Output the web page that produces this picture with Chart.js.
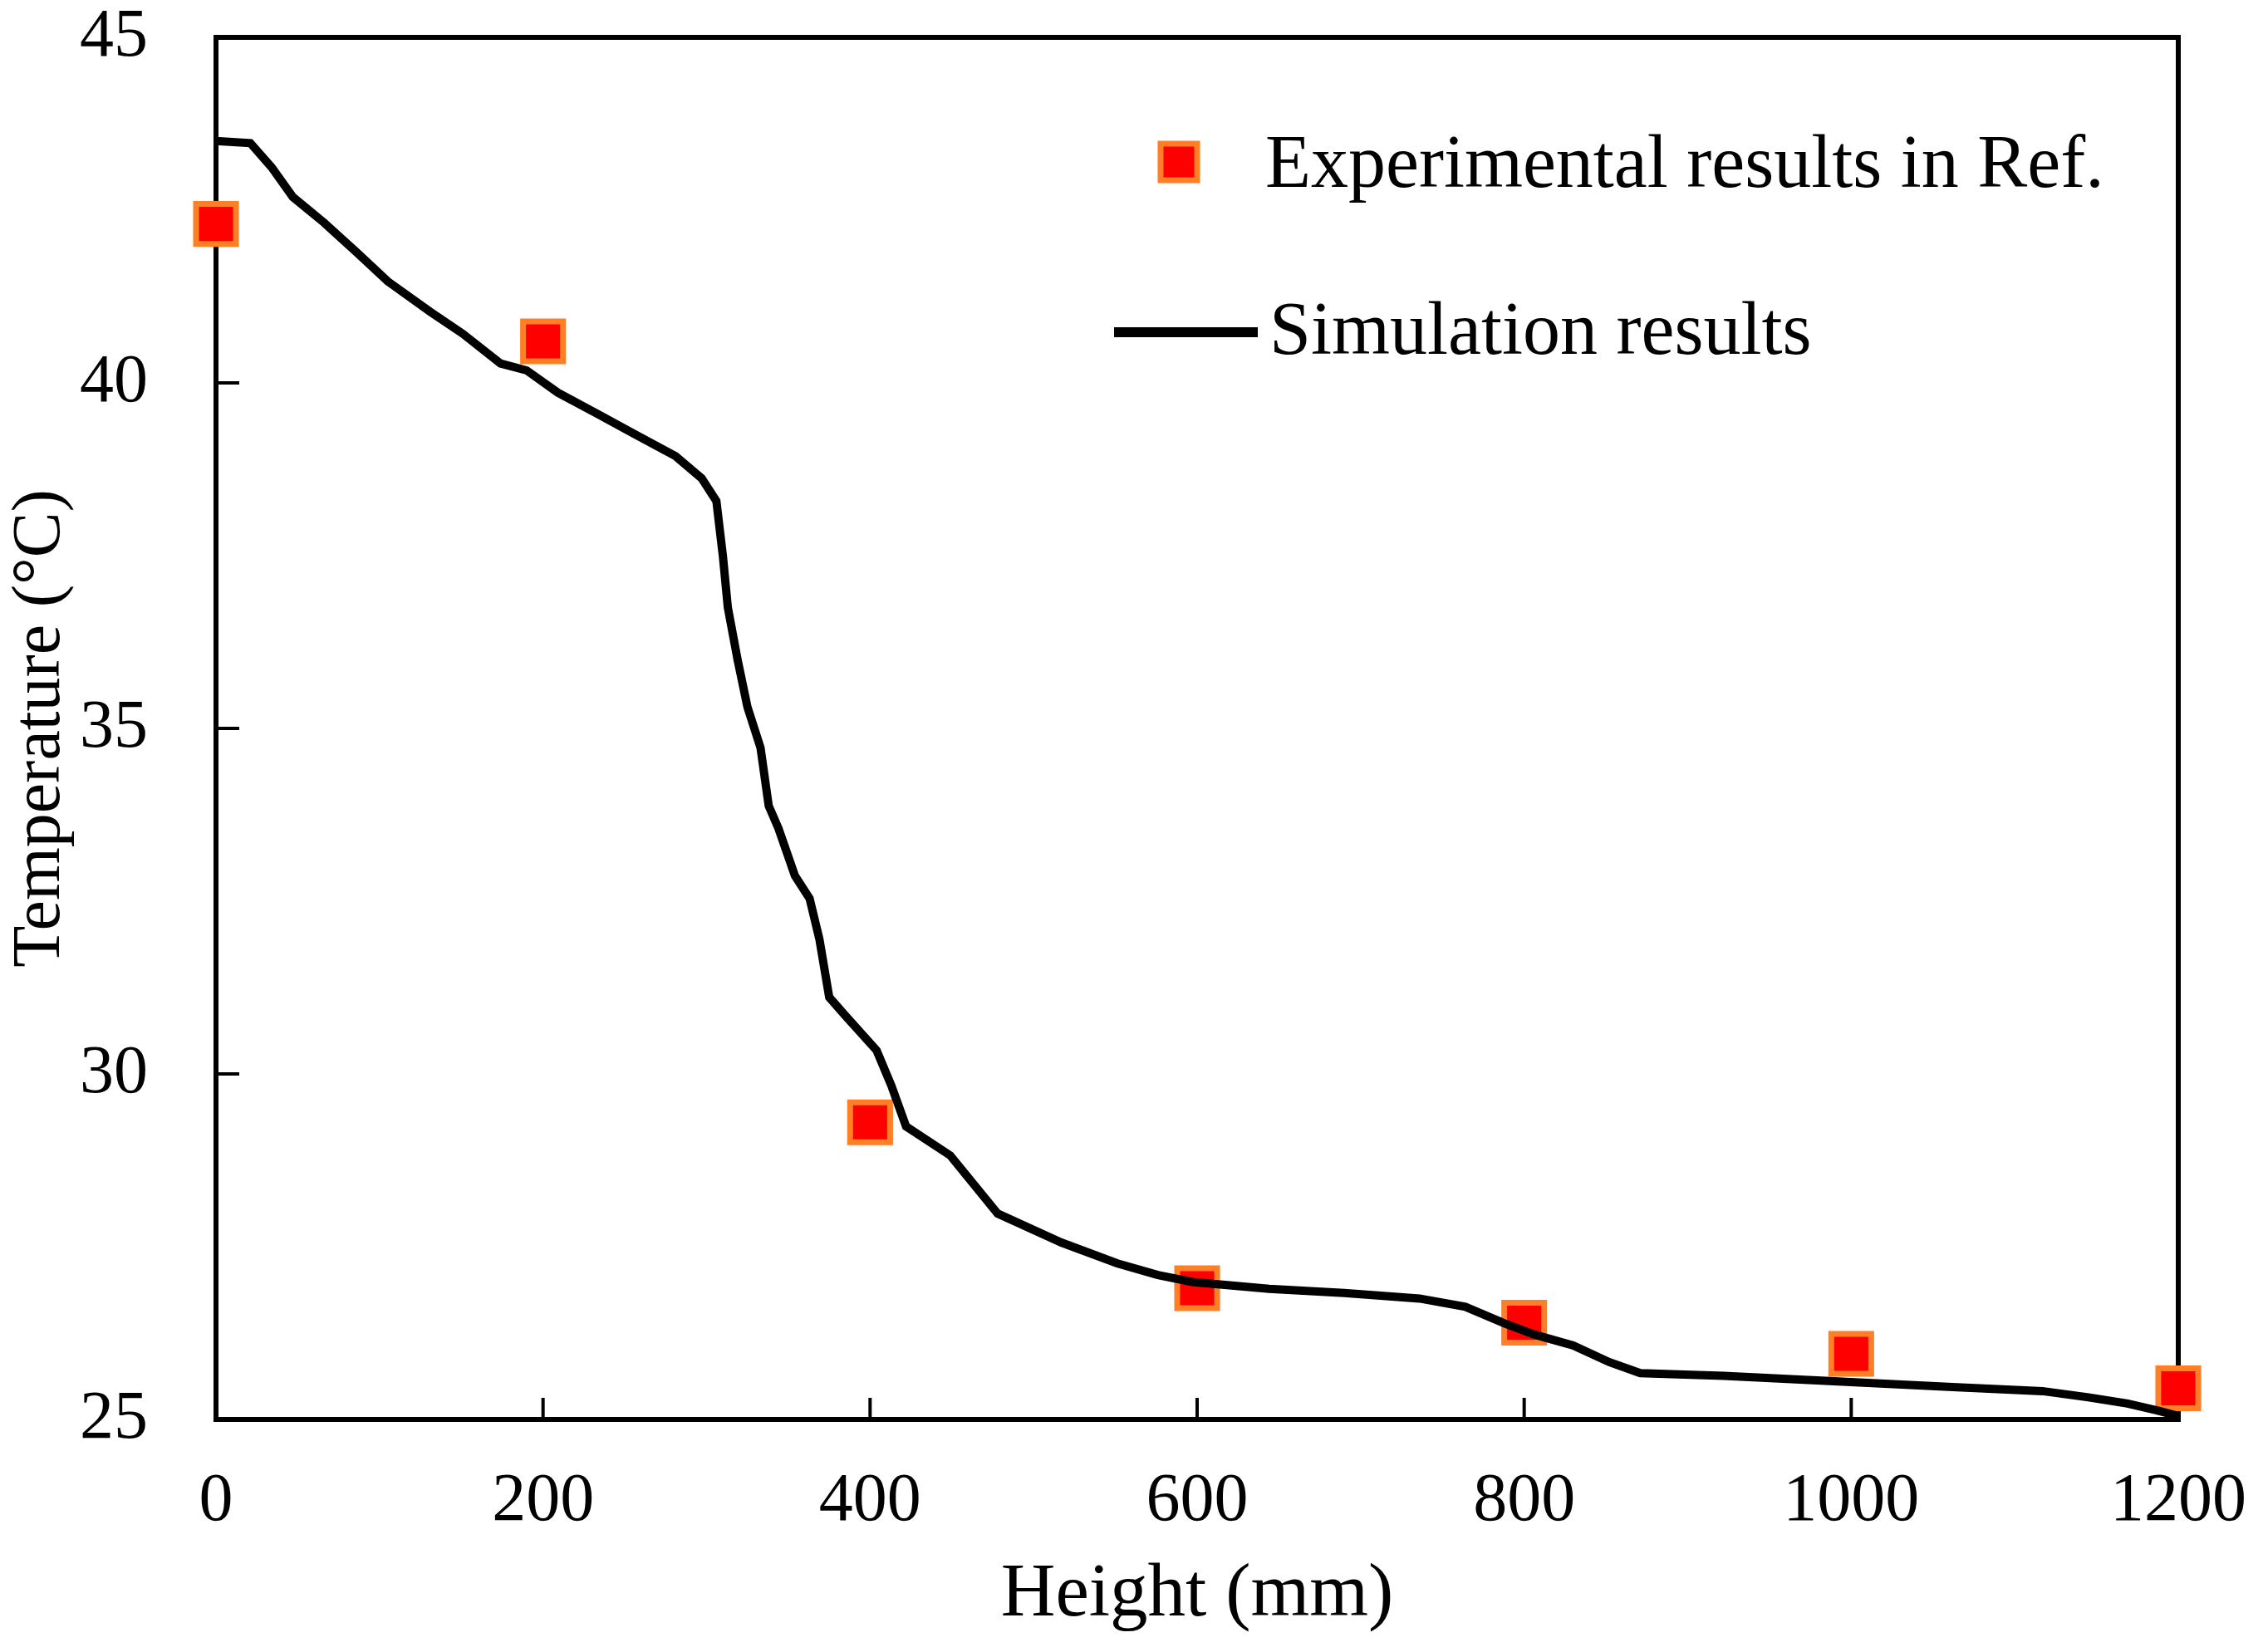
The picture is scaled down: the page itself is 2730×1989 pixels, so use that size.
<!DOCTYPE html>
<html>
<head>
<meta charset="utf-8">
<script src="https://cdn.jsdelivr.net/npm/chart.js@4/dist/chart.umd.min.js"></script>
<style>
  html, body { margin: 0; padding: 0; background: #fff; }
  #wrap { width: 2730px; height: 1989px; }
</style>
</head>
<body>
<div id="wrap"><canvas id="chart" width="2730" height="1989"></canvas></div>
<script>
// Experimental results (Ref.)
const expHeight = [0, 200, 400, 600, 800, 1000, 1200];
const expTemp = [42.3, 40.6, 29.3, 26.9, 26.4, 25.95, 25.45];

// Simulation curve
const simHeight = [0, 21, 34, 47, 66, 86, 105, 131, 151, 174, 190, 209, 235, 255, 281, 297, 306, 310,
  313, 319, 325, 333, 338, 344, 354, 363, 369, 375, 385, 404, 413, 422, 449, 478, 517, 551, 576,
  597, 644, 690, 736, 764, 788, 806, 830, 852, 871, 922, 992, 1062, 1117, 1145, 1169, 1187, 1200];
const simTemp = [43.5, 43.47, 43.12, 42.69, 42.32, 41.89, 41.47, 41.03, 40.71, 40.28, 40.18, 39.86,
  39.53, 39.27, 38.94, 38.62, 38.29, 37.49, 36.75, 35.99, 35.31, 34.72, 33.88, 33.55, 32.87, 32.54,
  31.95, 31.11, 30.84, 30.34, 29.83, 29.24, 28.82, 27.98, 27.56, 27.26, 27.09, 26.99, 26.89, 26.83,
  26.75, 26.63, 26.39, 26.23, 26.07, 25.83, 25.67, 25.63, 25.55, 25.47, 25.41, 25.32, 25.23, 25.13, 25.05];

// axis settings
const xTicks = [0, 200, 400, 600, 800, 1000, 1200];
const yTicks = [25, 30, 35, 40, 45];
const legendLabels = ['Experimental results in Ref.', 'Simulation results'];

const FONT = 'Liberation Serif';

// frame round the plot and short inward ticks
const framePlugin = {
  id: 'frame',
  beforeDatasetsDraw(chart) {
    const { ctx, chartArea: a, scales } = chart;
    ctx.save();
    ctx.strokeStyle = '#000';
    ctx.lineWidth = 4;
    ctx.beginPath();
    xTicks.slice(1, -1).forEach(v => {
      const px = scales.x.getPixelForValue(v);
      ctx.moveTo(px, a.bottom);
      ctx.lineTo(px, a.bottom - 26);
    });
    yTicks.slice(1, -1).forEach(v => {
      const py = scales.y.getPixelForValue(v);
      ctx.moveTo(a.left, py);
      ctx.lineTo(a.left + 28, py);
    });
    ctx.stroke();
    ctx.lineWidth = 6;
    ctx.strokeRect(a.left, a.top, a.right - a.left, a.bottom - a.top);
    ctx.restore();
  }
};

// legend inside the plot, top right
const legendPlugin = {
  id: 'insideLegend',
  afterDraw(chart) {
    const { ctx, chartArea: a } = chart;
    const exp = chart.data.datasets[1];
    const sim = chart.data.datasets[0];
    ctx.save();
    ctx.font = '90px "' + FONT + '"';
    ctx.textBaseline = 'middle';

    // square marker
    const sx = a.left + 1159, sy = a.top + 150;
    ctx.fillStyle = exp.pointBackgroundColor;
    ctx.strokeStyle = exp.pointBorderColor;
    ctx.lineWidth = 7;
    ctx.fillRect(sx - 22, sy - 22, 44, 44);
    ctx.strokeRect(sx - 22, sy - 22, 44, 44);
    ctx.fillStyle = '#000';
    ctx.fillText(legendLabels[0], a.left + 1263, sy + 6);

    // line sample
    const ly = a.top + 355;
    ctx.strokeStyle = sim.borderColor;
    ctx.lineWidth = 12;
    ctx.beginPath();
    ctx.moveTo(a.left + 1081, ly);
    ctx.lineTo(a.left + 1254, ly);
    ctx.stroke();
    ctx.fillText(legendLabels[1], a.left + 1268, ly + 2);
    ctx.restore();
  }
};

new Chart(document.getElementById('chart'), {
  type: 'scatter',
  data: {
    datasets: [
      {
        label: legendLabels[1],
        data: simHeight.map((h, i) => ({ x: h, y: simTemp[i] })),
        showLine: true,
        borderColor: '#000',
        borderWidth: 10,
        pointRadius: 0,
        tension: 0,
        clip: false
      },
      {
        label: legendLabels[0],
        data: expHeight.map((h, i) => ({ x: h, y: expTemp[i] })),
        pointStyle: 'rect',
        pointRadius: 34,
        pointBackgroundColor: '#ff0000',
        pointBorderColor: '#ff7f27',
        pointBorderWidth: 7,
        backgroundColor: '#ff0000',
        borderColor: '#ff7f27',
        clip: false
      }
    ]
  },
  options: {
    responsive: false,
    devicePixelRatio: 1,
    animation: false,
    layout: { padding: { top: 45, right: 108, left: 0, bottom: 0 } },
    plugins: {
      legend: { display: false },
      tooltip: { enabled: false }
    },
    scales: {
      x: {
        type: 'linear',
        min: 0,
        max: 1200,
        afterBuildTicks: s => { s.ticks = xTicks.map(v => ({ value: v })); },
        afterFit: s => {
          s.height = 280;
          s.paddingLeft = 0;
          s.paddingRight = 0;
        },
        grid: { display: false, drawTicks: false },
        border: { display: false },
        ticks: {
          padding: 58,
          color: '#000',
          font: { family: FONT, size: 82, lineHeight: 1 },
          maxRotation: 0,
          callback: v => String(v)
        },
        title: {
          display: true,
          text: 'Height (mm)',
          color: '#000',
          font: { family: FONT, size: 91, lineHeight: 1.2 },
          padding: { top: 0, bottom: 13 }
        }
      },
      y: {
        type: 'linear',
        min: 25,
        max: 45,
        afterBuildTicks: s => { s.ticks = yTicks.map(v => ({ value: v })); },
        afterFit: s => {
          s.width = 260;
          s.paddingTop = 0;
          s.paddingBottom = 0;
        },
        grid: { display: false, drawTicks: false },
        border: { display: false },
        ticks: {
          padding: 82,
          color: '#000',
          font: { family: FONT, size: 82, lineHeight: 1 },
          callback: v => String(v)
        },
        title: {
          display: true,
          text: 'Temperature (°C)',
          color: '#000',
          font: { family: FONT, size: 82, lineHeight: 1.2 },
          padding: { top: 0, bottom: 0 }
        }
      }
    }
  },
  plugins: [framePlugin, legendPlugin]
});
</script>
</body>
</html>
